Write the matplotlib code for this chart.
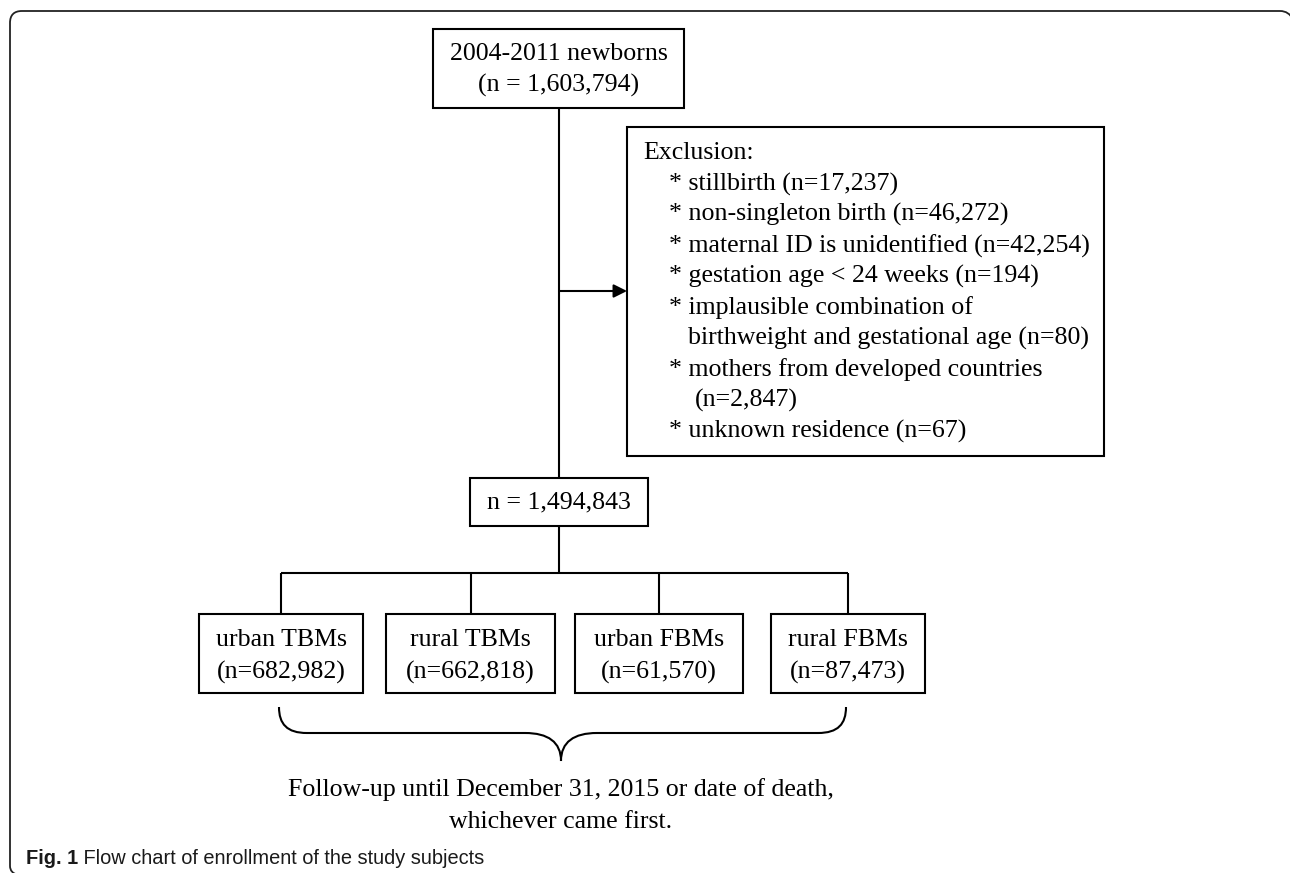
import matplotlib.pyplot as plt
from matplotlib.patches import Rectangle, PathPatch
from matplotlib.path import Path

# text content of the flow chart
top_label = ["2004-2011 newborns", "(n = 1,603,794)"]
exclusion_title = "Exclusion:"
exclusion_items = [
    "* stillbirth (n=17,237)",
    "* non-singleton birth (n=46,272)",
    "* maternal ID is unidentified (n=42,254)",
    "* gestation age < 24 weeks (n=194)",
    "* implausible combination of",
    "  birthweight and gestational age (n=80)",
    "* mothers from developed countries",
    "   (n=2,847)",
    "* unknown residence (n=67)",
]
middle_label = "n = 1,494,843"
group_names = ["urban TBMs", "rural TBMs", "urban FBMs", "rural FBMs"]
group_counts = ["(n=682,982)", "(n=662,818)", "(n=61,570)", "(n=87,473)"]
followup_text = ["Follow-up until December 31, 2015 or date of death,",
                 "whichever came first."]
caption_bold = "Fig. 1"
caption_text = " Flow chart of enrollment of the study subjects"

W, H = 1290, 873
fig = plt.figure(figsize=(W / 100, H / 100), dpi=100)
ax = fig.add_axes([0, 0, 1, 1])
ax.set_xlim(0, W)
ax.set_ylim(H, 0)
ax.axis("off")

LW = 1.5
serif = "Liberation Serif"
fs = 18.6

def box(x0, x1, y0, y1):
    ax.add_patch(Rectangle((x0, y0), x1 - x0, y1 - y0, fill=False,
                           lw=LW, ec="black"))

def line(xs, ys):
    ax.plot(xs, ys, color="black", lw=LW, solid_capstyle="butt")

def label(x, y, s, ha="center"):
    ax.text(x, y, s, ha=ha, va="center", family=serif, fontsize=fs)

# outer frame: rounded corners, right and bottom sides cut off by the image edge
frame = [(18, 875), (10, 873), (10, 866),
         (10, 23),
         (10, 15), (14, 11), (22, 11),
         (1280, 11),
         (1286, 11), (1290, 14), (1293, 19)]
frame_codes = [Path.MOVETO, Path.CURVE3, Path.CURVE3,
               Path.LINETO,
               Path.CURVE4, Path.CURVE4, Path.CURVE4,
               Path.LINETO,
               Path.CURVE4, Path.CURVE4, Path.CURVE4]
ax.add_patch(PathPatch(Path(frame, frame_codes), fill=False, lw=1.3, ec="#222222"))

# top box
box(433, 684, 29, 108)
label(558.5, 54, top_label[0])
label(558.5, 85, top_label[1])

# main stem + arrow to exclusion box
line([559, 559], [108, 478])
ax.annotate("", xy=(627, 291), xytext=(559, 291),
            arrowprops=dict(arrowstyle="-|>", color="black", lw=LW,
                            mutation_scale=20, shrinkA=0, shrinkB=0))

# exclusion box
box(627, 1104, 127, 456)
label(643, 153, exclusion_title, ha="left")
for i, item in enumerate(exclusion_items):
    y = 184 + i * 30.9
    if item.startswith("*"):
        label(669, y, item, ha="left")
    else:
        xoff = 688 if len(item) - len(item.lstrip()) == 2 else 695
        label(xoff, y, item.strip(), ha="left")

# middle box
box(470, 648, 478, 526)
label(559, 502, middle_label)
line([559, 559], [526, 573])

# branches
box_x = [(199, 363), (386, 555), (575, 743), (771, 925)]
centers = [(a + b) / 2 for a, b in box_x]
line([centers[0], centers[-1]], [573, 573])
for (x0, x1), cx, name, cnt in zip(box_x, centers, group_names, group_counts):
    line([cx, cx], [573, 614])
    box(x0, x1, 614, 693)
    label(cx, 640, name)
    label(cx, 672, cnt)

# curly brace
L, R, mid = 279, 846, 561
verts = [(L, 707), (L, 724), (287, 733), (307, 733),
         (525, 733),
         (548, 733), (mid, 742), (mid, 761),
         (mid, 742), (574, 733), (597, 733),
         (R - 28, 733),
         (R - 8, 733), (R, 724), (R, 707)]
codes = [Path.MOVETO, Path.CURVE4, Path.CURVE4, Path.CURVE4,
         Path.LINETO,
         Path.CURVE4, Path.CURVE4, Path.CURVE4,
         Path.CURVE4, Path.CURVE4, Path.CURVE4,
         Path.LINETO,
         Path.CURVE4, Path.CURVE4, Path.CURVE4]
ax.add_patch(PathPatch(Path(verts, codes), fill=False, lw=LW, ec="black"))

label(561, 790, followup_text[0])
label(561, 822, followup_text[1])

# caption
cap_font = "Liberation Sans"
t = ax.text(26, 859, caption_bold, ha="left", va="center",
            family=cap_font, fontsize=14.4, fontweight="bold", color="#1a1a1a")
fig.canvas.draw()
bb = t.get_window_extent()
x_end = ax.transData.inverted().transform((bb.x1, bb.y0))[0]
ax.text(x_end, 859, caption_text, ha="left", va="center",
        family=cap_font, fontsize=14.4, color="#1a1a1a")

fig.savefig("out.png", dpi=100)
